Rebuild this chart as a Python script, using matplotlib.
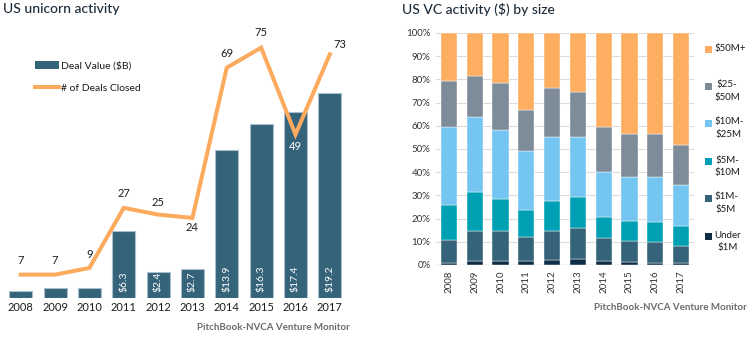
import matplotlib
matplotlib.use("Agg")
import matplotlib.pyplot as plt
from matplotlib.patches import Patch
from matplotlib.lines import Line2D
import numpy as np

plt.rcParams['font.family'] = ['Lato', 'DejaVu Sans']

# ---- data ----
years = ['2008', '2009', '2010', '2011', '2012', '2013', '2014', '2015', '2016', '2017']
deal_value = [0.7, 0.9, 0.9, 6.3, 2.4, 2.7, 13.9, 16.3, 17.4, 19.2]
value_labels = ['', '', '', '$6.3', '$2.4', '$2.7', '$13.9', '$16.3', '$17.4', '$19.2']
deals_closed = [7, 7, 9, 27, 25, 24, 69, 75, 49, 73]

size_labels = ['Under\n$1M', '$1M-\n$5M', '$5M-\n$10M', '$10M-\n$25M', '$25-\n$50M', '$50M+']
under_1m = [1.0, 1.9, 1.9, 1.9, 2.1, 2.6, 1.9, 1.4, 0.9, 0.9]
m1_5 = [9.7, 12.7, 12.7, 10.0, 12.5, 13.4, 9.7, 9.0, 9.2, 7.4]
m5_10 = [15.0, 16.7, 13.8, 11.7, 13.1, 13.1, 9.3, 8.6, 8.6, 8.4]
m10_25 = [33.6, 32.3, 29.7, 25.4, 27.6, 26.2, 19.4, 18.9, 19.2, 17.6]
m25_50 = [19.8, 17.8, 20.2, 17.9, 21.0, 19.3, 19.1, 18.4, 18.7, 17.6]
m50_plus = [20.9, 18.6, 21.7, 33.1, 23.7, 25.4, 40.6, 43.7, 43.4, 48.1]

size_colors = ['#0d2e45', '#35637a', '#00a0b4', '#74c5f2', '#7e8b99', '#fdae61']
bar_color = '#35637a'
line_color = '#fcaa5e'
text_color = '#1c1c1c'

W, H = 755, 338
fig = plt.figure(figsize=(W / 100, H / 100), dpi=100)


def fx(px):
    return px / W


def fy(py):
    return 1 - py / H


# ---- left: unicorn activity ----
ax = fig.add_axes([fx(3.5), fy(298), fx(343.5), 267 / H])
x = np.arange(len(years))
ax.bar(x, deal_value, width=0.67, color=bar_color, edgecolor='#a9bfcc',
       linewidth=0.8, zorder=2)
ax.set_ylim(0, 25)
ax.set_xlim(-0.5, len(years) - 0.5)
for xi, lab in zip(x, value_labels):
    if lab:
        ax.text(xi, 0.55, lab, rotation=90, ha='center', va='bottom',
                color='white', fontsize=7.5, zorder=4)
ax.set_xticks(x)
ax.set_xticklabels(years, fontsize=8, color=text_color)
ax.tick_params(axis='x', length=0, pad=3)
ax.set_yticks([])
for s in ax.spines.values():
    s.set_visible(False)

ax2 = ax.twinx()
ax2.plot(x, deals_closed, color=line_color, linewidth=2.9, zorder=3,
         solid_joinstyle='miter')
ax2.set_ylim(0, 80)
ax2.set_yticks([])
for s in ax2.spines.values():
    s.set_visible(False)

offsets = [(0, 10), (0, 10), (0, 10), (0, 10), (0, 9), (0, -7),
           (0, 10), (0, 11), (0, -9), (7, 7)]
for xi, v, (dx, dy) in zip(x, deals_closed, offsets):
    col = 'white' if v == 49 else text_color
    ax2.annotate(str(v), (xi, v), xytext=(dx, dy), textcoords='offset points',
                 ha='center', va='center', fontsize=8, color=col)

handles = [Patch(facecolor=bar_color, edgecolor='none'),
           Line2D([], [], color=line_color, linewidth=2.9)]
fig.legend(handles, ['Deal Value ($B)', '# of Deals Closed'],
           loc='center left', bbox_to_anchor=(fx(30), fy(77)),
           frameon=False, fontsize=7.5, handlelength=2.3, handleheight=0.75,
           handletextpad=0.15, labelspacing=1.25, borderpad=0,
           labelcolor=text_color)

fig.text(fx(3), fy(9), 'US unicorn activity', fontsize=10, color='#1c2b39',
         va='center', ha='left', fontweight='medium')
fig.text(fx(350), fy(328), 'PitchBook-NVCA Venture Monitor', fontsize=7,
         color='#6b6b6b', fontweight='bold', ha='right', va='center')

# ---- right: VC activity by size ----
bx = fig.add_axes([fx(436), fy(265), fx(258), 232 / H])
series = [under_1m, m1_5, m5_10, m10_25, m25_50, m50_plus]
bottom = np.zeros(len(years))
for vals, col in zip(series, size_colors):
    vals = np.array(vals)
    bx.bar(x, vals, bottom=bottom, width=0.63, color=col, edgecolor='white',
           linewidth=0.3, zorder=2)
    bottom += vals
bx.set_ylim(0, 100)
bx.set_xlim(-0.5, len(years) - 0.5)
bx.set_yticks(np.arange(0, 101, 10))
bx.set_yticklabels([f'{v}%' for v in range(0, 101, 10)], fontsize=7,
                   color='#333333')
bx.set_xticks(x)
bx.set_xticklabels(years, rotation=90, fontsize=7, color='#333333')
bx.tick_params(length=0, pad=4)
bx.yaxis.grid(True, color='#dcdcdc', linewidth=0.8, zorder=0)
bx.set_axisbelow(True)
for s in bx.spines.values():
    s.set_visible(False)
bx.axhline(0, color='#d0d0d0', linewidth=1, zorder=1)

# size-band key, top to bottom
key_rows = [49, 86, 123, 161, 198, 236]
for lab, col, ry in zip(size_labels[::-1], size_colors[::-1], key_rows):
    fig.patches.append(plt.Rectangle((fx(705), fy(ry + 3.5)), fx(7), 7 / H,
                                     transform=fig.transFigure,
                                     facecolor=col, edgecolor='none'))
    fig.text(fx(714), fy(ry - 5.5), lab, fontsize=7, color=text_color,
             ha='left', va='top', multialignment='center', linespacing=1.45)

fig.text(fx(402), fy(9), 'US VC activity ($) by size', fontsize=10,
         color='#1c2b39', va='center', ha='left', fontweight='medium')
fig.text(fx(747), fy(308), 'PitchBook-NVCA Venture Monitor', fontsize=7,
         color='#6b6b6b', fontweight='bold', ha='right', va='center')

fig.savefig('out.png', dpi=100)
